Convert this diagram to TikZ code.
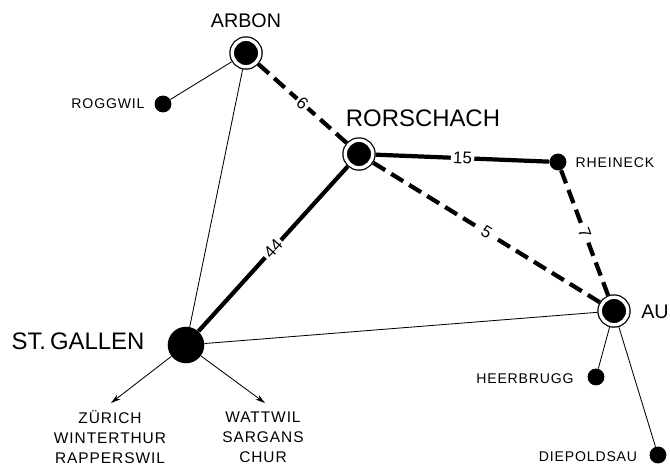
\documentclass[tikz,border=0pt]{standalone}
\usepackage{fontspec}
\setmainfont{Liberation Sans}
\newfontfamily\smallfont[LetterSpace=6]{Liberation Sans}
\usetikzlibrary{arrows.meta}

\begin{document}
\begin{tikzpicture}[x=0.025cm, y=-0.025cm,
    town/.style={circle, fill=black, draw=black, double=white, double distance=2.4pt,
      line width=0.9pt, minimum size=19.6pt, inner sep=0pt, outer sep=2.1pt},
    city/.style={circle, fill=black, minimum size=26pt, inner sep=0pt},
    village/.style={circle, fill=black, minimum size=12pt, inner sep=0pt},
    mainline/.style={line width=3pt},
    dashline/.style={line width=3pt, dash pattern=on 10pt off 5pt},
    thinline/.style={line width=0.6pt},
    dist/.style={midway, sloped, inner sep=1.5pt, font=\fontsize{12}{12}\selectfont},
    biglabel/.style={font=\fontsize{17}{17}\selectfont},
    midlabel/.style={font=\fontsize{14}{14}\selectfont},
    smalllabel/.style={font=\smallfont\fontsize{10}{10}\selectfont},
    routelabel/.style={align=center, font=\smallfont\fontsize{11}{14.2}\selectfont},
  ]
  \useasboundingbox (0,0) rectangle (670,468);

  % Places
  \node[town] (arbon) at (246,53) {};
  \node[town] (rorschach) at (359,154) {};
  \node[town] (au) at (614,311) {};
  \node[city] (stgallen) at (186,345) {};
  \node[village] (roggwil) at (163,104) {};
  \node[village] (rheineck) at (558,162) {};
  \node[village] (heerbrugg) at (596,377) {};
  \node[village] (diepoldsau) at (658,455) {};

  % Names
  \node[midlabel] (arbonlabel) at (246,21) {ARBON};
  \node[biglabel] (rorschachlabel) at (423,118) {RORSCHACH};
  \node[midlabel] (aulabel) at (655,312) {AU};
  \node[biglabel] (stgallenlabel) at (78,341) {ST.\,GALLEN};
  \node[smalllabel] (roggwillabel) at (108,104) {ROGGWIL};
  \node[smalllabel] (rheinecklabel) at (615,163) {RHEINECK};
  \node[smalllabel] (heerbrugglabel) at (525,379) {HEERBRUGG};
  \node[smalllabel] (diepoldsaulabel) at (588,457) {DIEPOLDSAU};

  % Thin connections
  \draw[thinline] (arbon) -- (roggwil);
  \draw[thinline] (arbon) -- (stgallen);
  \draw[thinline] (stgallen) -- (au);
  \draw[thinline] (au) -- (heerbrugg);
  \draw[thinline] (au) -- (diepoldsau);

  % Distances
  \path (stgallen) -- (rorschach) node[dist] (d44) {44};
  \path (rorschach) -- (rheineck) node[dist] (d15) {15};
  \path (arbon) -- (rorschach) node[dist] (d6) {6};
  \path (rorschach) -- (au) node[dist] (d5) {5};
  \path (rheineck) -- (au) node[dist] (d7) {7};

  % Main connections, broken at the distances
  \draw[mainline] (stgallen) -- (d44);
  \draw[mainline] (d44) -- (rorschach);
  \draw[mainline] (rorschach) -- (d15);
  \draw[mainline] (d15) -- (rheineck);
  \draw[dashline] (arbon) -- (d6);
  \draw[dashline] (rorschach) -- (d6);
  \draw[dashline] (rorschach) -- (d5);
  \draw[dashline] (au) -- (d5);
  \draw[dashline] (rheineck) -- (d7);
  \draw[dashline] (au) -- (d7);

  % Onward routes
  \coordinate (westend) at (111,403);
  \coordinate (southend) at (265,403);
  \draw[thinline, -{Stealth[length=7pt, width=4pt]}] (stgallen) -- (westend);
  \draw[thinline, -{Stealth[length=7pt, width=4pt]}] (stgallen) -- (southend);
  \node[routelabel] (westlabel) at (110,437) {ZÜRICH\\WINTERTHUR\\RAPPERSWIL};
  \node[routelabel] (southlabel) at (263,437) {WATTWIL\\SARGANS\\CHUR};
\end{tikzpicture}
\end{document}
